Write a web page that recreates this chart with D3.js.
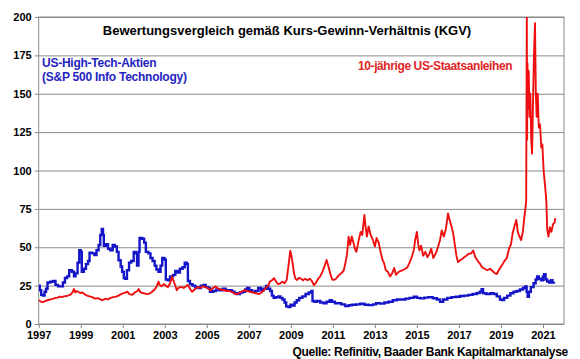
<!DOCTYPE html>
<html>
<head>
<meta charset="utf-8" />
<title>Bewertungsvergleich KGV</title>
<script src="https://d3js.org/d3.v7.min.js"></script>
<style>
    body { margin: 0; background: #fff; }
    text { font-family: Arial, "Liberation Sans", sans-serif; font-weight: bold; }
</style>
</head>
<body>
<div id="chart"></div>
<script>

    // tick labels
    let yTicks = [0, 25, 50, 75, 100, 125, 150, 175, 200];
    let xTicks = [1997, 1999, 2001, 2003, 2005, 2007, 2009, 2011, 2013, 2015, 2017, 2019, 2021];

    // S&P 500 Info Technology KGV [year, value]
    let techPE = [
        [1997.00, 25], [1997.05, 22], [1997.12, 19], [1997.20, 18.5], [1997.28, 21], [1997.35, 23],
        [1997.42, 27], [1997.55, 27.5], [1997.68, 28], [1997.80, 25.5], [1997.92, 24.5], [1998.05, 24.5],
        [1998.15, 27], [1998.25, 30], [1998.35, 31], [1998.45, 35], [1998.58, 34], [1998.68, 31],
        [1998.75, 33], [1998.85, 40], [1998.93, 48], [1999.00, 47], [1999.05, 34], [1999.15, 36],
        [1999.25, 39], [1999.35, 41], [1999.42, 46.5], [1999.55, 46], [1999.65, 45], [1999.75, 48],
        [1999.85, 51.5], [1999.93, 58], [2000.00, 62], [2000.06, 58], [2000.10, 51], [2000.20, 52],
        [2000.30, 49], [2000.40, 48], [2000.52, 51.5], [2000.62, 50.5], [2000.72, 47], [2000.80, 41.5],
        [2000.90, 37.5], [2000.97, 34], [2001.05, 30], [2001.12, 29.5], [2001.20, 35], [2001.30, 40],
        [2001.40, 41], [2001.52, 47], [2001.62, 46], [2001.68, 38], [2001.75, 47], [2001.80, 56],
        [2001.92, 55.5], [2002.02, 53], [2002.10, 47], [2002.22, 46], [2002.32, 43], [2002.42, 41],
        [2002.52, 38], [2002.60, 35.5], [2002.70, 34], [2002.80, 38], [2002.88, 43], [2002.98, 42],
        [2003.05, 29], [2003.15, 28.5], [2003.25, 31], [2003.40, 32], [2003.50, 34.5], [2003.60, 33.5],
        [2003.72, 36], [2003.85, 37], [2003.95, 40], [2004.05, 39], [2004.10, 28], [2004.20, 26],
        [2004.32, 25], [2004.45, 24], [2004.60, 23.5], [2004.72, 25], [2004.85, 25.5], [2004.95, 24],
        [2005.05, 23.5], [2005.15, 21], [2005.30, 21.5], [2005.45, 22.5], [2005.60, 22], [2005.75, 23],
        [2005.90, 22], [2006.05, 22], [2006.20, 21], [2006.32, 20], [2006.45, 19.5], [2006.58, 20.5],
        [2006.70, 21], [2006.82, 22.5], [2006.92, 23.5], [2007.02, 22], [2007.15, 21], [2007.30, 21.5],
        [2007.45, 23.5], [2007.58, 22], [2007.70, 23], [2007.82, 24.8], [2007.92, 23], [2008.02, 21.5],
        [2008.10, 18.5], [2008.18, 17], [2008.30, 17.5], [2008.40, 18], [2008.50, 17], [2008.60, 16],
        [2008.70, 14], [2008.78, 11.5], [2008.88, 11], [2008.98, 12.5], [2009.08, 12], [2009.18, 14],
        [2009.28, 15.5], [2009.40, 17], [2009.55, 18], [2009.70, 19.5], [2009.85, 20.5], [2009.98, 21.5],
        [2010.03, 15], [2010.12, 14.5], [2010.25, 15], [2010.40, 14], [2010.55, 13.5], [2010.70, 14.5],
        [2010.85, 15.5], [2010.95, 14.5], [2011.10, 13.5], [2011.25, 13.5], [2011.40, 12.8], [2011.58, 11.7],
        [2011.75, 12.2], [2011.90, 12.5], [2012.10, 12.8], [2012.30, 13.2], [2012.50, 12.5], [2012.70, 12.3],
        [2012.90, 12.8], [2013.05, 13.5], [2013.25, 13.3], [2013.45, 14], [2013.65, 14.5], [2013.85, 15.5],
        [2014.05, 16], [2014.25, 16], [2014.45, 16.5], [2014.65, 17], [2014.85, 17.8], [2015.00, 17],
        [2015.15, 16.7], [2015.35, 17.2], [2015.55, 17.5], [2015.75, 16.8], [2015.95, 16], [2016.10, 14.5],
        [2016.25, 16], [2016.45, 17], [2016.65, 17.5], [2016.85, 17.8], [2017.05, 18.2], [2017.25, 18.5],
        [2017.45, 19], [2017.65, 19.5], [2017.85, 20.2], [2018.00, 21], [2018.08, 22.6], [2018.15, 20],
        [2018.30, 19.5], [2018.50, 20], [2018.65, 19.5], [2018.80, 18], [2018.95, 16], [2019.05, 15.6],
        [2019.15, 17], [2019.30, 18.5], [2019.45, 20], [2019.60, 21], [2019.75, 21.5], [2019.90, 22.5],
        [2020.05, 23.5], [2020.15, 24.5], [2020.22, 21], [2020.27, 17.8], [2020.33, 21], [2020.42, 24],
        [2020.55, 26.5], [2020.65, 29], [2020.72, 31], [2020.80, 29.5], [2020.90, 28.5], [2021.00, 31],
        [2021.05, 32.5], [2021.12, 29], [2021.20, 27.7], [2021.30, 27], [2021.38, 28.5], [2021.45, 27],
        [2021.52, 27.5]
    ];

    // 10-jaehrige US-Staatsanleihen KGV (1 / Rendite) [year, value]
    let bondPE = [
        [1997.00, 15.5], [1997.08, 14.8], [1997.18, 14.3], [1997.28, 14.8], [1997.38, 15.3], [1997.48, 15.8],
        [1997.58, 16], [1997.70, 16.5], [1997.80, 17], [1997.90, 17.2], [1998.00, 17.8], [1998.10, 17.5],
        [1998.20, 18], [1998.32, 18.2], [1998.45, 18.8], [1998.55, 19.5], [1998.62, 21], [1998.68, 22.8],
        [1998.74, 20.5], [1998.80, 21.5], [1998.88, 21], [1998.98, 20.2], [1999.08, 20.5], [1999.18, 19.5],
        [1999.30, 18.5], [1999.42, 18], [1999.55, 17.5], [1999.68, 16.5], [1999.80, 16.8], [1999.92, 16.2],
        [2000.00, 15.5], [2000.08, 15.8], [2000.18, 16.5], [2000.30, 16], [2000.42, 17], [2000.55, 17.5],
        [2000.68, 17.8], [2000.80, 18.5], [2000.92, 19.5], [2001.02, 20], [2001.12, 20.5], [2001.22, 21],
        [2001.32, 19.5], [2001.45, 19], [2001.58, 20.5], [2001.70, 21.5], [2001.76, 22.8], [2001.82, 21],
        [2001.92, 20.2], [2002.02, 20], [2002.15, 19.5], [2002.28, 19.8], [2002.40, 21], [2002.52, 22.5],
        [2002.62, 24.6], [2002.70, 27.6], [2002.76, 25.5], [2002.84, 24.5], [2002.95, 26], [2003.05, 25],
        [2003.15, 24], [2003.25, 26.5], [2003.35, 30.8], [2003.42, 28], [2003.50, 25], [2003.57, 22],
        [2003.65, 23.5], [2003.78, 24.2], [2003.90, 23.5], [2004.00, 24.5], [2004.10, 25.4], [2004.20, 23],
        [2004.30, 21], [2004.42, 22.5], [2004.55, 24], [2004.68, 23.5], [2004.80, 24.6], [2004.92, 24],
        [2005.05, 23.5], [2005.18, 22], [2005.30, 23.5], [2005.42, 24.5], [2005.55, 23], [2005.68, 22.5],
        [2005.82, 22], [2005.95, 21.5], [2006.10, 21.5], [2006.25, 20.5], [2006.40, 19.3], [2006.52, 20],
        [2006.65, 21], [2006.78, 22], [2006.92, 21.5], [2007.05, 21], [2007.20, 20.5], [2007.35, 20],
        [2007.48, 19.5], [2007.60, 20.5], [2007.72, 22], [2007.82, 23.5], [2007.92, 25], [2008.00, 27.6],
        [2008.10, 28.5], [2008.20, 29.8], [2008.30, 27.5], [2008.40, 26], [2008.50, 26.5], [2008.60, 27.6],
        [2008.70, 26.5], [2008.80, 28.7], [2008.86, 35], [2008.92, 41.7], [2008.97, 47.8], [2009.02, 45],
        [2009.08, 40], [2009.15, 33], [2009.22, 29.5], [2009.30, 28.7], [2009.38, 30], [2009.48, 29.5],
        [2009.58, 28.5], [2009.68, 29.5], [2009.80, 28.5], [2009.90, 29.5], [2010.00, 28], [2010.10, 25.4],
        [2010.20, 27], [2010.30, 29.5], [2010.40, 31], [2010.50, 34], [2010.60, 37.5], [2010.70, 41.7],
        [2010.78, 38], [2010.87, 33], [2010.97, 29], [2011.05, 28.7], [2011.15, 29.5], [2011.28, 31.7],
        [2011.40, 33], [2011.52, 35], [2011.60, 40], [2011.67, 45], [2011.75, 56.9], [2011.82, 51.5],
        [2011.90, 57], [2011.98, 53], [2012.05, 49], [2012.12, 47], [2012.22, 54], [2012.32, 60],
        [2012.40, 58], [2012.50, 71], [2012.56, 63], [2012.62, 57], [2012.70, 63.6], [2012.80, 58],
        [2012.90, 55], [2013.00, 50.5], [2013.08, 56], [2013.18, 53], [2013.27, 47], [2013.36, 42],
        [2013.44, 39.5], [2013.52, 35], [2013.62, 34], [2013.72, 31], [2013.82, 33], [2013.92, 36.5],
        [2014.00, 32], [2014.10, 33.5], [2014.20, 34.5], [2014.32, 35], [2014.45, 36], [2014.55, 37],
        [2014.65, 40], [2014.75, 43.5], [2014.85, 48], [2014.92, 55], [2015.00, 60], [2015.06, 52],
        [2015.12, 48], [2015.20, 51], [2015.30, 44.5], [2015.40, 47], [2015.50, 43.5], [2015.60, 46],
        [2015.68, 49], [2015.78, 43], [2015.90, 46], [2016.00, 50], [2016.10, 54.7], [2016.18, 61],
        [2016.28, 57], [2016.38, 62], [2016.48, 72], [2016.55, 68], [2016.62, 65], [2016.72, 59.5],
        [2016.80, 52], [2016.88, 44.5], [2016.96, 40.3], [2017.05, 41.5], [2017.15, 42.3], [2017.25, 43.5],
        [2017.35, 44.5], [2017.45, 45.6], [2017.58, 46], [2017.68, 47.8], [2017.78, 43.5], [2017.90, 41],
        [2018.00, 39.3], [2018.10, 37], [2018.22, 36], [2018.35, 35], [2018.48, 36], [2018.60, 34.5],
        [2018.72, 33], [2018.80, 32.6], [2018.88, 34.7], [2018.98, 37], [2019.08, 39], [2019.18, 41.3],
        [2019.28, 43], [2019.38, 48.8], [2019.48, 52], [2019.56, 59.5], [2019.65, 64], [2019.73, 67.8],
        [2019.80, 60], [2019.88, 57], [2019.96, 54.7], [2020.04, 60], [2020.10, 67.8], [2020.16, 75],
        [2020.20, 80], [2020.23, 205], [2020.245, 120], [2020.26, 170], [2020.29, 140], [2020.32, 165],
        [2020.36, 135], [2020.40, 150], [2020.44, 120], [2020.48, 111], [2020.52, 140], [2020.57, 175],
        [2020.62, 196], [2020.66, 150], [2020.70, 135], [2020.75, 150], [2020.80, 128], [2020.86, 130],
        [2020.92, 115], [2020.97, 117], [2021.03, 100], [2021.10, 90], [2021.16, 80], [2021.20, 62],
        [2021.26, 57], [2021.33, 63], [2021.40, 60], [2021.48, 65], [2021.55, 66], [2021.59, 69]
    ];

    let width = 580, height = 359;
    let margin = { top: 17, right: 16, bottom: 35, left: 38.7 };

    let svg = d3.select('#chart').append('svg')
        .attr('width', width)
        .attr('height', height);

    let x = d3.scaleLinear()
        .domain([1997, 2022])
        .range([margin.left, width - margin.right]);

    let y = d3.scaleLinear()
        .domain([0, 200])
        .range([height - margin.bottom, margin.top]);

    // clip so the 2020 spike stops at the frame
    svg.append('clipPath').attr('id', 'plot')
        .append('rect')
        .attr('x', margin.left).attr('y', margin.top)
        .attr('width', x(2022) - margin.left)
        .attr('height', y(0) - margin.top);

    // gridlines + left ticks
    svg.append('g')
        .attr('transform', 'translate(' + margin.left + ',0)')
        .call(d3.axisLeft(y).tickValues(yTicks).tickSize(-(x(2022) - margin.left)).tickPadding(7).tickSizeOuter(0))
        .call(g => g.select('.domain').remove())
        .call(g => g.selectAll('.tick line').attr('stroke', '#8a8a8a').attr('x1', -4))
        .call(g => g.selectAll('.tick text').attr('font-size', 11).attr('fill', '#000').attr('font-weight', 'bold'));

    // x axis
    svg.append('g')
        .attr('transform', 'translate(0,' + y(0) + ')')
        .call(d3.axisBottom(x).tickValues(xTicks).tickFormat(d3.format('d')).tickSize(4).tickPadding(3).tickSizeOuter(0))
        .call(g => g.select('.domain').remove())
        .call(g => g.selectAll('.tick line').attr('stroke', '#8a8a8a'))
        .call(g => g.selectAll('.tick text').attr('font-size', 11).attr('fill', '#000').attr('font-weight', 'bold'));

    // frame
    svg.append('rect')
        .attr('x', margin.left).attr('y', margin.top)
        .attr('width', x(2022) - margin.left)
        .attr('height', y(0) - margin.top)
        .attr('fill', 'none')
        .attr('stroke', '#8a8a8a');

    let techLine = d3.line()
        .x(d => x(d[0]))
        .y(d => y(d[1]))
        .curve(d3.curveStepAfter);

    let bondLine = d3.line()
        .x(d => x(d[0]))
        .y(d => y(d[1]));

    let lines = svg.append('g').attr('clip-path', 'url(#plot)');

    lines.append('path')
        .datum(techPE)
        .attr('d', techLine)
        .attr('fill', 'none')
        .attr('stroke', '#1414c8')
        .attr('stroke-width', 2.4);

    lines.append('path')
        .datum(bondPE)
        .attr('d', bondLine)
        .attr('fill', 'none')
        .attr('stroke', '#ee1010')
        .attr('stroke-width', 1.9)
        .attr('stroke-linejoin', 'round');

    // texts
    svg.append('text')
        .attr('x', 287).attr('y', 35)
        .attr('text-anchor', 'middle')
        .attr('font-size', 13)
        .text('Bewertungsvergleich gemäß Kurs-Gewinn-Verhältnis (KGV)');

    let blueLabel = svg.append('text')
        .attr('x', 42).attr('y', 67)
        .attr('font-size', 12)
        .attr('letter-spacing', -0.25)
        .attr('fill', '#2424c0');
    blueLabel.append('tspan').attr('x', 42).text('US-High-Tech-Aktien');
    blueLabel.append('tspan').attr('x', 42).attr('dy', 14).text('(S&P 500 Info Technology)');

    svg.append('text')
        .attr('x', 358).attr('y', 70)
        .attr('font-size', 12)
        .attr('letter-spacing', -0.4)
        .attr('fill', '#e02424')
        .text('10-jährige US-Staatsanleihen');

    svg.append('text')
        .attr('x', 568).attr('y', 356)
        .attr('text-anchor', 'end')
        .attr('font-size', 12)
        .attr('letter-spacing', -0.3)
        .text('Quelle: Refinitiv, Baader Bank Kapitalmarktanalyse');

</script>
</body>
</html>
